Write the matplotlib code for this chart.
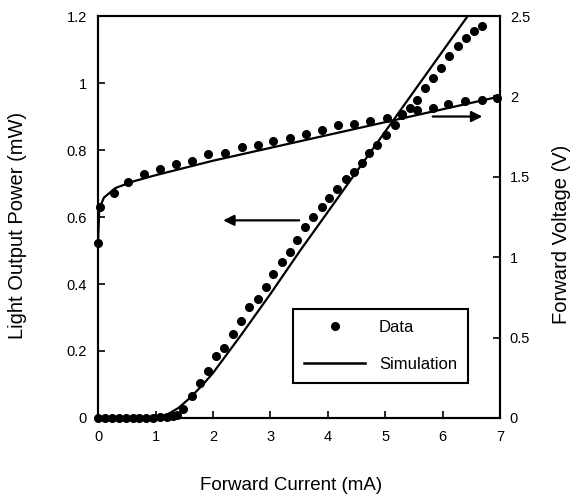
import matplotlib
matplotlib.use("Agg")
import matplotlib.pyplot as plt
from matplotlib.ticker import FormatStrFormatter

plt.rcParams['font.family'] = ['Liberation Sans', 'DejaVu Sans']

# light output power data (mA, mW)
curr_L = [0.0, 0.12, 0.24, 0.36, 0.48, 0.60, 0.72, 0.84, 0.96, 1.08, 1.20, 1.30, 1.38,
          1.48, 1.64, 1.78, 1.91, 2.06, 2.19, 2.35, 2.49, 2.63, 2.78, 2.93, 3.05, 3.20,
          3.34, 3.47, 3.61, 3.75, 3.90, 4.02, 4.16, 4.32, 4.46, 4.60, 4.72, 4.86, 5.02,
          5.17, 5.30, 5.43, 5.56, 5.70, 5.84, 5.98, 6.12, 6.27, 6.41, 6.55, 6.69]
power_L = [0.0, 0.0, 0.0, 0.0, 0.0, 0.0, 0.0, 0.0, 0.0, 0.002, 0.003, 0.005, 0.008,
           0.027, 0.066, 0.104, 0.14, 0.185, 0.21, 0.25, 0.29, 0.33, 0.355, 0.39, 0.43, 0.466,
           0.495, 0.531, 0.570, 0.60, 0.63, 0.657, 0.684, 0.713, 0.734, 0.761, 0.79, 0.815, 0.845,
           0.875, 0.905, 0.925, 0.949, 0.985, 1.015, 1.045, 1.08, 1.11, 1.135, 1.155, 1.17]

# forward voltage data (mA, V)
curr_V = [0.0, 0.03, 0.27, 0.52, 0.80, 1.08, 1.36, 1.64, 1.92, 2.21, 2.51, 2.79, 3.05,
          3.34, 3.62, 3.90, 4.18, 4.45, 4.74, 5.03, 5.30, 5.55, 5.84, 6.10, 6.39, 6.69, 6.95]
volt_V = [1.09, 1.31, 1.40, 1.47, 1.52, 1.55, 1.58, 1.60, 1.64, 1.65, 1.685, 1.70, 1.72,
          1.74, 1.766, 1.79, 1.82, 1.83, 1.85, 1.866, 1.89, 1.915, 1.93, 1.95, 1.97, 1.98, 1.99]

# simulation curves
sim_curr_L = [0.0, 1.0, 1.2, 1.4, 1.6, 1.8, 2.0, 2.5, 3.0, 3.52, 4.0, 5.0, 6.0, 6.6]
sim_power_L = [0.0, 0.0, 0.01, 0.03, 0.06, 0.095, 0.134, 0.25, 0.37, 0.50, 0.615, 0.855, 1.095, 1.239]
sim_curr_V = [0.0, 0.02, 0.1, 0.3, 0.6, 1.0, 2.0, 3.0, 4.0, 5.0, 6.0, 7.0]
sim_volt_V = [1.1, 1.3, 1.37, 1.43, 1.47, 1.51, 1.60, 1.68, 1.76, 1.84, 1.92, 2.0]

fig = plt.figure(figsize=(5.77, 5.01), dpi=100)
ax = fig.add_axes([0.170, 0.1657, 0.6966, 0.8023])
ax2 = ax.twinx()

ax.plot(curr_L, power_L, 'o', color='black', markersize=5.5, clip_on=False, zorder=3)
ax.plot(sim_curr_L, sim_power_L, '-', color='black', lw=1.6)
ax2.plot(curr_V, volt_V, 'o', color='black', markersize=5.5, clip_on=False, zorder=3)
ax2.plot(sim_curr_V, sim_volt_V, '-', color='black', lw=1.6)

ax.set_xlim(0, 7)
ax.set_ylim(0, 1.2)
ax2.set_ylim(0, 2.5)
ax.set_xticks(range(0, 8))
ax.set_yticks([0, 0.2, 0.4, 0.6, 0.8, 1.0, 1.2])
ax2.set_yticks([0, 0.5, 1, 1.5, 2, 2.5])
ax.yaxis.set_major_formatter(FormatStrFormatter('%g'))
ax2.yaxis.set_major_formatter(FormatStrFormatter('%g'))

ax.tick_params(axis='both', direction='in', length=5, width=1.2, labelsize=10.5)
ax.tick_params(axis='y', pad=8)
ax.tick_params(axis='x', pad=9)
ax2.tick_params(axis='y', direction='in', length=5, width=1.2, labelsize=10.5, pad=7)
for a in (ax, ax2):
    for s in a.spines.values():
        s.set_linewidth(1.5)

ax.set_xlabel('Forward Current (mA)', fontsize=13.5)
ax.set_ylabel('Light Output Power (mW)', fontsize=14.5)
ax2.set_ylabel('Forward Voltage (V)', fontsize=14.5)
ax.xaxis.set_label_coords(0.48, -0.147)
ax.yaxis.set_label_coords(-0.177, 0.478)
ax2.yaxis.set_label_coords(1.129, 0.458)

# arrows pointing at the respective axes
ax.annotate('', xy=(2.13, 0.59), xytext=(3.55, 0.59),
            arrowprops=dict(arrowstyle='-|>', color='black', lw=1.6, mutation_scale=16))
ax.annotate('', xy=(6.74, 0.90), xytext=(5.78, 0.90),
            arrowprops=dict(arrowstyle='-|>', color='black', lw=1.6, mutation_scale=16))

h1, = ax2.plot([], [], 'o', color='black', markersize=5.5)
h2, = ax2.plot([], [], '-', color='black', lw=1.8)
leg = ax2.legend([h1, h2], ['Data', 'Simulation'], loc='center',
                 bbox_to_anchor=(0.703, 0.179), fontsize=12, frameon=True,
                 fancybox=False, edgecolor='black', framealpha=1,
                 handlelength=3.65, handletextpad=0.84, labelspacing=1.3,
                 borderpad=0.66, numpoints=1)
leg.get_frame().set_linewidth(1.5)

fig.savefig('out.png', dpi=100)
